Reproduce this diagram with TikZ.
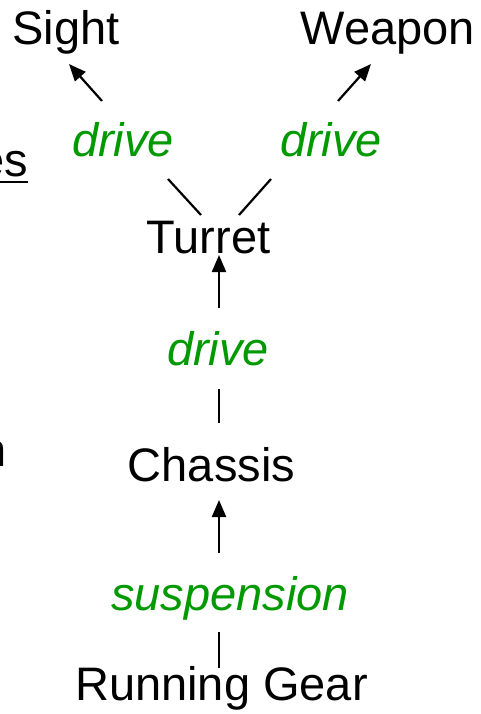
\documentclass[tikz,border=0pt]{standalone}
\usepackage{fontspec}
\setmainfont{Liberation Sans}
\usetikzlibrary{arrows.meta}
\definecolor{relgreen}{RGB}{0,153,0}
\tikzset{
  part/.style={inner sep=0pt, anchor=base, font=\fontsize{47}{56}\selectfont, text=black},
  rel/.style={part, font=\fontsize{47}{56}\selectfont\itshape, text=relgreen},
  link/.style={line width=2.2pt, draw=black},
  uplink/.style={link, -{Triangle[length=17pt,width=14pt]}}
}
\begin{document}
\begin{tikzpicture}[x=1pt,y=-1pt]
  \useasboundingbox (0,0) rectangle (481,714);

  % components and relations
  \node[part] (sight)   at (66,45)    {Sight};
  \node[part] (weapon)  at (388,45)   {Weapon};
  \node[rel]  (dL)      at (123,157)  {drive};
  \node[rel]  (dR)      at (331,157)  {drive};
  \node[part] (turret)  at (208.5,253){Turret};
  \node[rel]  (dM)      at (218,365)  {drive};
  \node[part] (chassis) at (211.5,481){Chassis};
  \node[rel]  (susp)    at (230,610)  {suspension};
  \node[part] (gear)    at (221.5,700){Running Gear};

  % text running in from the left edge
  \node[part, anchor=base east] (es) at (28,176) {es};
  \draw[line width=2pt] ([yshift=-6pt]es.base west) -- ([yshift=-6pt]es.base east);
  \node[part, anchor=base east] (nfrag) at (7,466) {n};

  % segment ends
  \coordinate (tLa) at (201,215);  \coordinate (dLa) at (168,179);
  \coordinate (dLb) at (102,101);  \coordinate (sA)  at (69,64);
  \coordinate (tRa) at (239,215);  \coordinate (dRa) at (271,179);
  \coordinate (dRb) at (338,101);  \coordinate (wA)  at (371,64);
  \coordinate (dMb) at (219,308);  \coordinate (tB)  at (219,255);
  \coordinate (cA)  at (219,389);  \coordinate (dMa) at (219,423);
  \coordinate (sb)  at (219,553);  \coordinate (cB)  at (219,500);
  \coordinate (gA)  at (219,632);  \coordinate (sa)  at (219,668);

  % connectors
  \draw[link]   (tLa) -- (dLa);
  \draw[uplink] (dLb) -- (sA);
  \draw[link]   (tRa) -- (dRa);
  \draw[uplink] (dRb) -- (wA);
  \draw[uplink] (dMb) -- (tB);
  \draw[link]   (cA)  -- (dMa);
  \draw[uplink] (sb)  -- (cB);
  \draw[link]   (gA)  -- (sa);
\end{tikzpicture}
\end{document}
